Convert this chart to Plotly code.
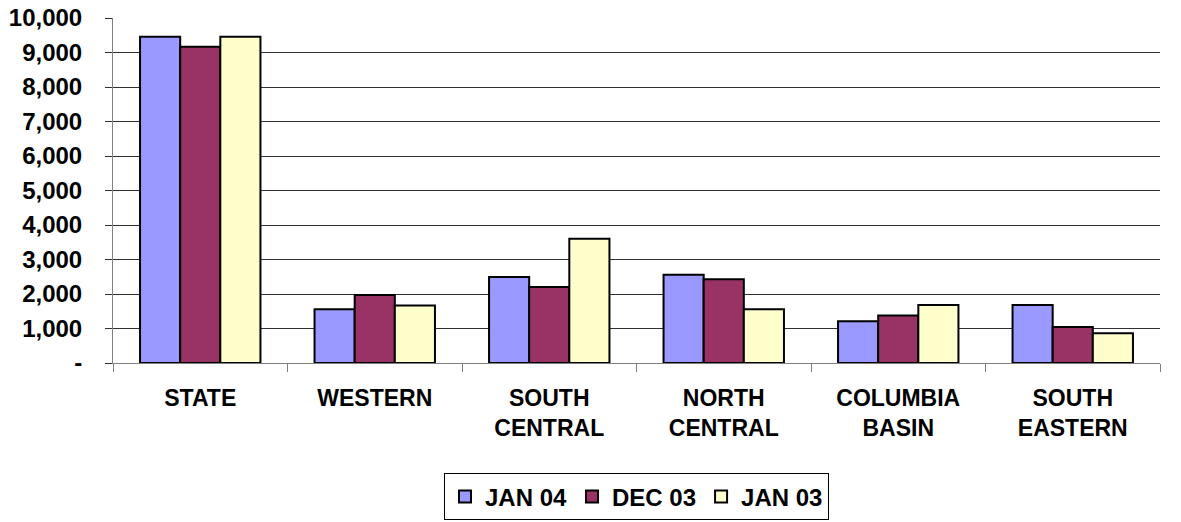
import plotly.graph_objects as go

categories = ["STATE", "WESTERN", "SOUTH<br>CENTRAL", "NORTH<br>CENTRAL", "COLUMBIA<br>BASIN", "SOUTH<br>EASTERN"]
jan04 = [9460, 1560, 2490, 2555, 1210, 1680]
dec03 = [9170, 1970, 2200, 2430, 1380, 1040]
jan03 = [9460, 1670, 3600, 1560, 1680, 860]
series_names = ["JAN 04", "DEC 03", "JAN 03"]
colors = ["#9999FF", "#993366", "#FFFFCC"]
tick_vals = [0, 1000, 2000, 3000, 4000, 5000, 6000, 7000, 8000, 9000, 10000]
tick_text = ["-", "1,000", "2,000", "3,000", "4,000", "5,000", "6,000", "7,000", "8,000", "9,000", "10,000"]

FONT = "Liberation Sans, Arial, sans-serif"

fig = go.Figure()
for name, vals, col in zip(series_names, [jan04, dec03, jan03], colors):
    fig.add_trace(go.Bar(
        x=categories, y=vals, name=name,
        marker=dict(color=col, line=dict(color="black", width=2)),
    ))

fig.update_layout(
    width=1181, height=522,
    margin=dict(l=113, r=21, t=18, b=159, autoexpand=False),
    paper_bgcolor="white", plot_bgcolor="white",
    barmode="group", bargap=0.31, bargroupgap=0,
    font=dict(family=FONT, color="black"),
    showlegend=True,
    legend=dict(
        orientation="h", x=0.5, xanchor="center", y=-0.32, yanchor="top",
        font=dict(size=24, weight="bold", family=FONT),
        bordercolor="black", borderwidth=1, bgcolor="white",
        itemwidth=30, tracegroupgap=0,
    ),
)
fig.update_xaxes(
    type="category", showgrid=False, showline=True, linecolor="#808080", linewidth=1,
    ticks="outside", tickson="boundaries", ticklen=8, tickcolor="#808080",
    tickfont=dict(size=23, weight="bold", family=FONT),
    ticklabelstandoff=14, automargin=False,
)
fig.update_yaxes(
    range=[0, 10000], tickvals=tick_vals, ticktext=tick_text,
    showgrid=True, gridcolor="#303030", gridwidth=1,
    showline=True, linecolor="#808080", linewidth=1,
    ticks="outside", ticklen=7, tickcolor="#303030",
    tickfont=dict(size=24, weight="bold", family=FONT),
    ticklabelstandoff=18, automargin=False,
    zeroline=False,
)

fig.write_html("out.html", config={"displayModeBar": False},
               post_script="document.body.style.margin='0';")
